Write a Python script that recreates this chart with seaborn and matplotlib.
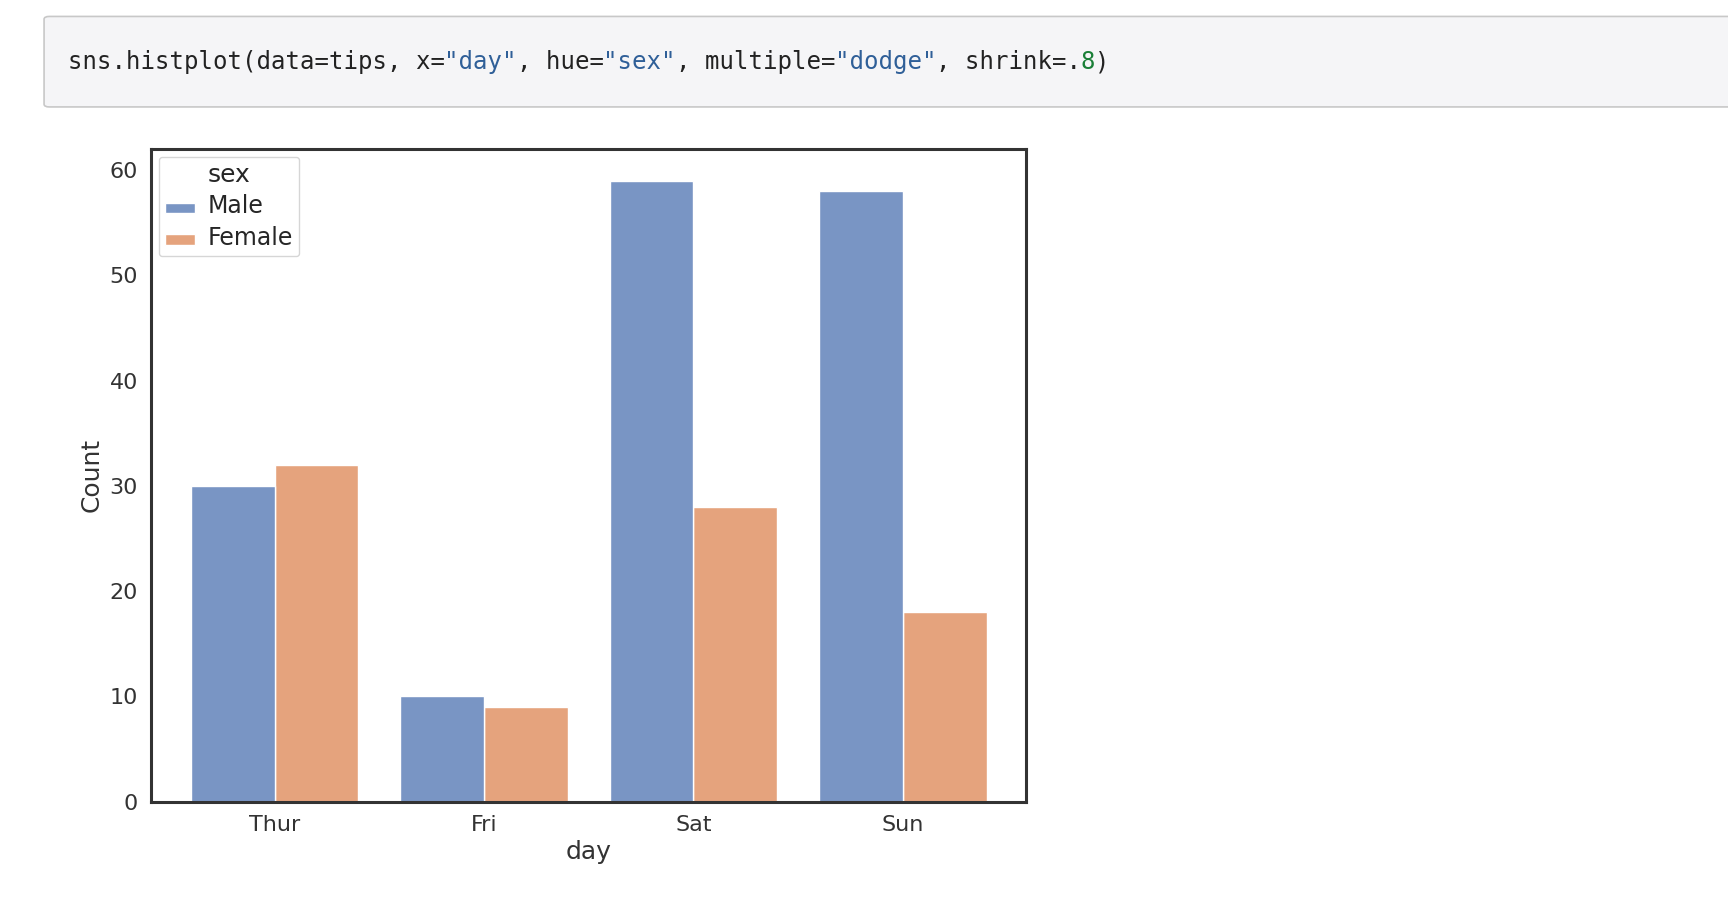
import matplotlib
matplotlib.use("Agg")
import matplotlib.pyplot as plt
import seaborn as sns
import pandas as pd
from matplotlib.patches import FancyBboxPatch

days = ["Thur", "Fri", "Sat", "Sun"]
sexes = ["Male", "Female"]
male_counts = [30, 10, 59, 58]
female_counts = [32, 9, 28, 18]

rows = []
for d, m, f in zip(days, male_counts, female_counts):
    rows.append((d, "Male", m))
    rows.append((d, "Female", f))
df = pd.DataFrame(rows, columns=["day", "sex", "count"])
df["day"] = pd.Categorical(df["day"], categories=days, ordered=True)
df["sex"] = pd.Categorical(df["sex"], categories=sexes, ordered=True)

sns.set_theme(style="white", font_scale=1.0)
plt.rcParams["font.family"] = ["DejaVu Sans"]
plt.rcParams["axes.edgecolor"] = "#333333"

fig = plt.figure(figsize=(17.28, 9.14), dpi=100)

# code cell
box = FancyBboxPatch((0.0255, 0.883), 1.0, 0.099, boxstyle="round,pad=0,rounding_size=0.003",
                     transform=fig.transFigure, facecolor="#f5f5f7", edgecolor="#c8c8c8", lw=1.2)
fig.patches.append(box)
segments = [("sns.histplot(data=tips, x=", "#222222"), ('"day"', "#2f5f98"), (", hue=", "#222222"),
            ('"sex"', "#2f5f98"), (", multiple=", "#222222"), ('"dodge"', "#2f5f98"),
            (", shrink=.", "#222222"), ("8", "#1a7f37"), (")", "#222222")]
fs = 17.3
cw = 0.602 * fs * 100 / 72 / 1728
x = 0.0395
for s, c in segments:
    fig.text(x, 0.932, s, color=c, fontsize=fs, family="DejaVu Sans Mono", va="center", ha="left")
    x += cw * len(s)

ax = fig.add_axes([0.0874, 0.123, 0.5066, 0.714])
sns.histplot(data=df, x="day", hue="sex", weights="count", multiple="dodge", shrink=.8, ax=ax,
             hue_order=sexes)
for s in ax.spines.values():
    s.set_linewidth(2.2)
    s.set_color("#333333")
ax.set_ylim(0, 62)
ax.tick_params(labelsize=16, colors="#333333")
ax.set_xlabel("day", fontsize=18, color="#333333")
ax.set_ylabel("Count", fontsize=18, color="#333333")
leg = ax.get_legend()
leg.set_loc("upper left")
leg.get_title().set_fontsize(18)
for t in leg.get_texts():
    t.set_fontsize(17)
fig.savefig("out.png", dpi=100)
